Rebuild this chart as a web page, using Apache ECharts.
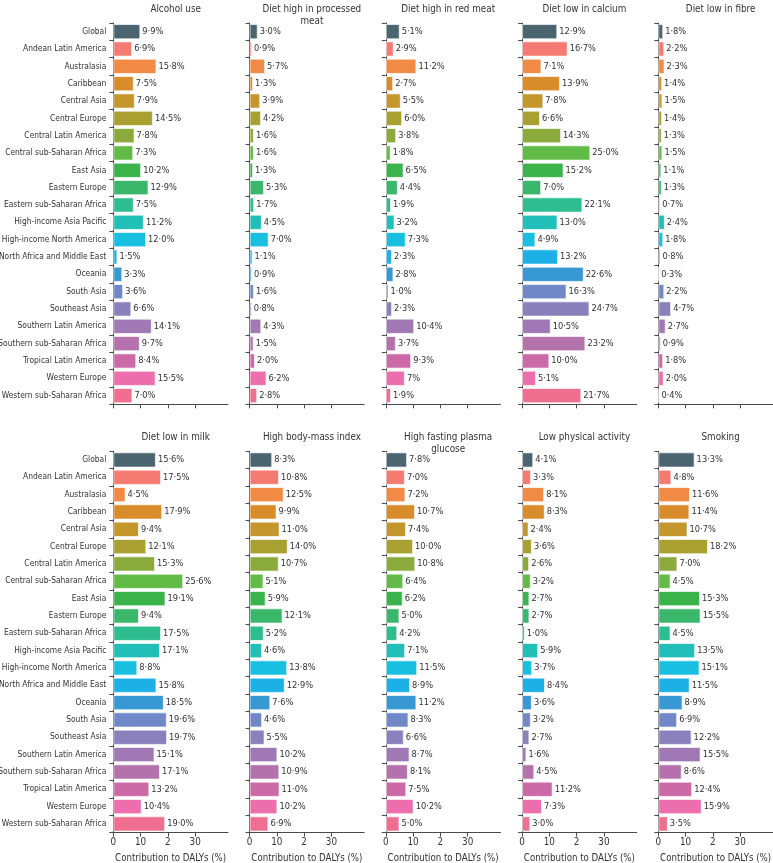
<!DOCTYPE html>
<html>
<head>
<meta charset="utf-8">
<script src="https://cdn.jsdelivr.net/npm/echarts@6/dist/echarts.min.js"></script>
<style>
html,body{margin:0;padding:0;background:#fff;}
#chart{width:773px;height:863px;}
</style>
</head>
<body>
<div id="chart"></div>
<script>
const regions = ['Global','Andean Latin America','Australasia','Caribbean','Central Asia','Central Europe','Central Latin America','Central sub-Saharan Africa','East Asia','Eastern Europe','Eastern sub-Saharan Africa','High-income Asia Pacific','High-income North America','North Africa and Middle East','Oceania','South Asia','Southeast Asia','Southern Latin America','Southern sub-Saharan Africa','Tropical Latin America','Western Europe','Western sub-Saharan Africa'];
const regionColors = ['#4b6570','#f47a72','#f08a45','#d98c2a','#c4962c','#a8a030','#8aab3c','#62bb46','#3ab34a','#3bb76c','#2ebd8e','#22bfb8','#18bfe0','#1cb0e6','#3898d4','#7088c8','#8a80bc','#a078b4','#b472ac','#cc6aa8','#ec6eac','#f06e90'];
const riskTitles = ['Alcohol use','Diet high in processed\nmeat','Diet high in red meat','Diet low in calcium','Diet low in fibre','Diet low in milk','High body-mass index','High fasting plasma\nglucose','Low physical activity','Smoking'];
const xTickValues = [0,10,20,30];
const xTickLabels = ['0','10','2','30'];

const alcoholUse = [9.9,6.9,15.8,7.5,7.9,14.5,7.8,7.3,10.2,12.9,7.5,11.2,12.0,1.5,3.3,3.6,6.6,14.1,9.7,8.4,15.5,7.0];
const processedMeat = [3.0,0.9,5.7,1.3,3.9,4.2,1.6,1.6,1.3,5.3,1.7,4.5,7.0,1.1,0.9,1.6,0.8,4.3,1.5,2.0,6.2,2.8];
const redMeat = [5.1,2.9,11.2,2.7,5.5,6.0,3.8,1.8,6.5,4.4,1.9,3.2,7.3,2.3,2.8,1.0,2.3,10.4,3.7,9.3,7.0,1.9];
const redMeatLabelOverrides = {20: '7%'};
const lowCalcium = [12.9,16.7,7.1,13.9,7.8,6.6,14.3,25.0,15.2,7.0,22.1,13.0,4.9,13.2,22.6,16.3,24.7,10.5,23.2,10.0,5.1,21.7];
const lowFibre = [1.8,2.2,2.3,1.4,1.5,1.4,1.3,1.5,1.1,1.3,0.7,2.4,1.8,0.8,0.3,2.2,4.7,2.7,0.9,1.8,2.0,0.4];
const lowMilk = [15.6,17.5,4.5,17.9,9.4,12.1,15.3,25.6,19.1,9.4,17.5,17.1,8.8,15.8,18.5,19.6,19.7,15.1,17.1,13.2,10.4,19.0];
const highBMI = [8.3,10.8,12.5,9.9,11.0,14.0,10.7,5.1,5.9,12.1,5.2,4.6,13.8,12.9,7.6,4.6,5.5,10.2,10.9,11.0,10.2,6.9];
const highFPG = [7.8,7.0,7.2,10.7,7.4,10.0,10.8,6.4,6.2,5.0,4.2,7.1,11.5,8.9,11.2,8.3,6.6,8.7,8.1,7.5,10.2,5.0];
const lowActivity = [4.1,3.3,8.1,8.3,2.4,3.6,2.6,3.2,2.7,2.7,1.0,5.9,3.7,8.4,3.6,3.2,2.7,1.6,4.5,11.2,7.3,3.0];
const smoking = [13.3,4.8,11.6,11.4,10.7,18.2,7.0,4.5,15.3,15.5,4.5,13.5,15.1,11.5,8.9,6.9,12.2,15.5,8.6,12.4,15.9,3.5];

const panels = [alcoholUse, processedMeat, redMeat, lowCalcium, lowFibre, lowMilk, highBMI, highFPG, lowActivity, smoking];
const labelOverrides = [{}, {}, redMeatLabelOverrides, {}, {}, {}, {}, {}, {}, {}];

const FONT = "'DejaVu Sans Condensed', 'Liberation Sans', sans-serif";
const TXT = '#333333';
const AX = '#4a4a4a';
const colLeft = 113.3, colStep = 136.25, gridW = 114.7;
const rowTop = [23, 451.3], gridH = 381.3;
const titleTop = [-1, 427];

const fmt = v => v.toFixed(1).replace('.', '\u00b7') + '%';

const grids = [], xAxes = [], yAxes = [], series = [], titles = [];
panels.forEach((vals, i) => {
  const r = Math.floor(i / 5), c = i % 5;
  const left = colLeft + c * colStep;
  grids.push({left: left, top: rowTop[r], width: gridW, height: gridH, containLabel: false, outerBoundsMode: 'none'});
  titles.push({
    text: riskTitles[i], left: left + gridW / 2, top: titleTop[r], textAlign: 'center',
    textStyle: {fontFamily: FONT, fontSize: 9.8, fontWeight: 'normal', color: TXT, lineHeight: 11.5}
  });
  xAxes.push({
    type: 'value', gridIndex: i, min: 0, max: 42,
    axisLine: {show: true, lineStyle: {color: AX, width: 1}},
    axisTick: {show: true, length: 4, customValues: xTickValues, lineStyle: {color: AX}},
    splitLine: {show: false},
    axisLabel: {
      show: r === 1, customValues: xTickValues, margin: 5,
      fontFamily: FONT, fontSize: 9.8, color: TXT,
      formatter: v => xTickLabels[xTickValues.indexOf(v)]
    },
    name: r === 1 ? 'Contribution to DALYs (%)' : '', nameLocation: 'middle', nameGap: 21,
    nameTextStyle: {fontFamily: FONT, fontSize: 9.6, color: TXT}
  });
  yAxes.push({
    type: 'category', gridIndex: i, data: regions, inverse: true,
    axisLine: {show: true, lineStyle: {color: AX, width: 1}},
    axisTick: {show: true, length: 4, lineStyle: {color: AX}},
    axisLabel: {show: c === 0, margin: 7, fontFamily: FONT, fontSize: 8.4, color: TXT}
  });
  const ov = labelOverrides[i];
  series.push({
    type: 'bar', xAxisIndex: i, yAxisIndex: i, barCategoryGap: '12%',
    data: vals.map((v, j) => ({value: v, itemStyle: {color: regionColors[j]}})),
    itemStyle: {borderColor: 'rgba(255,255,255,0.65)', borderWidth: 1},
    label: {
      show: true, position: 'right', distance: 2,
      fontFamily: FONT, fontSize: 9.2, color: TXT,
      formatter: p => (ov[p.dataIndex] !== undefined ? ov[p.dataIndex] : fmt(p.value))
    },
    emphasis: {disabled: true},
    animation: false
  });
});

const chart = echarts.init(document.getElementById('chart'), null, {renderer: 'canvas'});
chart.setOption({
  backgroundColor: '#ffffff',
  animation: false,
  title: titles,
  grid: grids,
  xAxis: xAxes,
  yAxis: yAxes,
  series: series
});
</script>
</body>
</html>
